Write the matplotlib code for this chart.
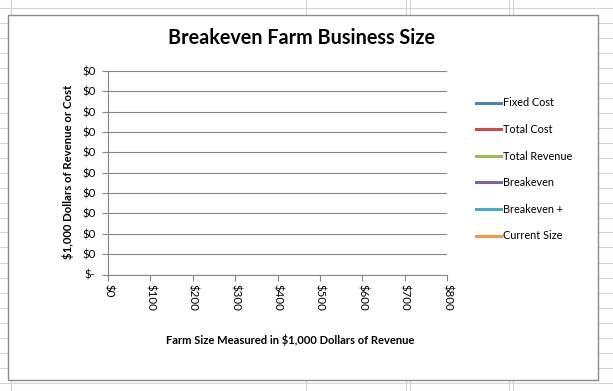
from matplotlib import pyplot as plt
from matplotlib.lines import Line2D
from matplotlib.patches import Rectangle
from matplotlib.ticker import FuncFormatter, MultipleLocator

plt.rcParams['font.family'] = ['Lato', 'DejaVu Sans']

# the sheet has no numbers filled in yet, so every series is empty
farm_size = []
series_names = ["Fixed Cost", "Total Cost", "Total Revenue",
                "Breakeven", "Breakeven +", "Current Size"]
fixed_cost = []
total_cost = []
total_revenue = []
breakeven = []
breakeven_plus = []
current_size = []
series_values = [fixed_cost, total_cost, total_revenue,
                 breakeven, breakeven_plus, current_size]
colors = ["#4F81BD", "#C0504D", "#9BBB59", "#8064A2", "#4BACC6", "#F79646"]

x_max = 800
x_step = 100
y_max = 0.1
y_step = 0.01

W, H = 613, 391
fig = plt.figure(figsize=(W / 100, H / 100), dpi=100)


def fx(px):
    return px / W


def fy(py):
    return 1 - py / H


# spreadsheet cells behind the chart
for k in range(27):
    y = 7.5 + 15 * k
    fig.add_artist(Line2D([0, 1], [fy(y), fy(y)], color="#d4d4d4", lw=0.8, zorder=-3))
for x in [11, 306, 406, 409.5, 509, 512.5]:
    fig.add_artist(Line2D([fx(x), fx(x)], [0, 1], color="#d4d4d4", lw=0.8, zorder=-3))

# chart frame
fig.add_artist(Rectangle((fx(8), fy(380)), fx(597.5) - fx(8), fy(15) - fy(380),
                         facecolor="white", edgecolor="#8c8c8c", lw=1.0, zorder=-1))

ax = fig.add_axes([fx(108), fy(274.5), fx(447) - fx(108), fy(71) - fy(274.5)])
ax.set_facecolor("none")

for name, vals, c in zip(series_names, series_values, colors):
    ax.plot(farm_size, vals, color=c, lw=2.2, label=name)

ax.set_xlim(0, x_max)
ax.set_ylim(0, y_max)
ax.xaxis.set_major_locator(MultipleLocator(x_step))
ax.yaxis.set_major_locator(MultipleLocator(y_step))
ax.xaxis.set_major_formatter(FuncFormatter(lambda v, p: f"${v:,.0f}"))
ax.yaxis.set_major_formatter(FuncFormatter(lambda v, p: "$-" if abs(v) < 1e-9 else f"${v:,.0f}"))

ax.grid(axis="y", color="#868686", lw=0.8)
ax.set_axisbelow(True)
for s in ["top", "right"]:
    ax.spines[s].set_visible(False)
for s in ["left", "bottom"]:
    ax.spines[s].set_color("#868686")
    ax.spines[s].set_linewidth(0.8)
ax.tick_params(axis="both", colors="#868686", labelcolor="black", length=4, width=0.8, labelsize=8.3)
ax.tick_params(axis="y", pad=5)
ax.tick_params(axis="x", pad=3)
for lbl in ax.get_xticklabels():
    lbl.set_rotation(-90)

fig.text(fx(302), fy(38), "Breakeven Farm Business Size", ha="center", va="center",
         fontsize=14.2, fontweight="bold")
fig.text(fx(290), fy(340), "Farm Size Measured in $1,000 Dollars of Revenue", ha="center",
         va="center", fontsize=8, fontweight="bold")
fig.text(fx(68), fy(172), "$1,000 Dollars of Revenue or Cost", ha="center", va="center",
         rotation=90, fontsize=8.2, fontweight="bold")

ax.legend(loc="upper left", bbox_to_anchor=(fx(472), fy(93)), bbox_transform=fig.transFigure,
          frameon=False, fontsize=7.8, handlelength=2.3, handletextpad=0.2, labelspacing=1.44,
          borderaxespad=0)

fig.savefig("out.png", dpi=100)
